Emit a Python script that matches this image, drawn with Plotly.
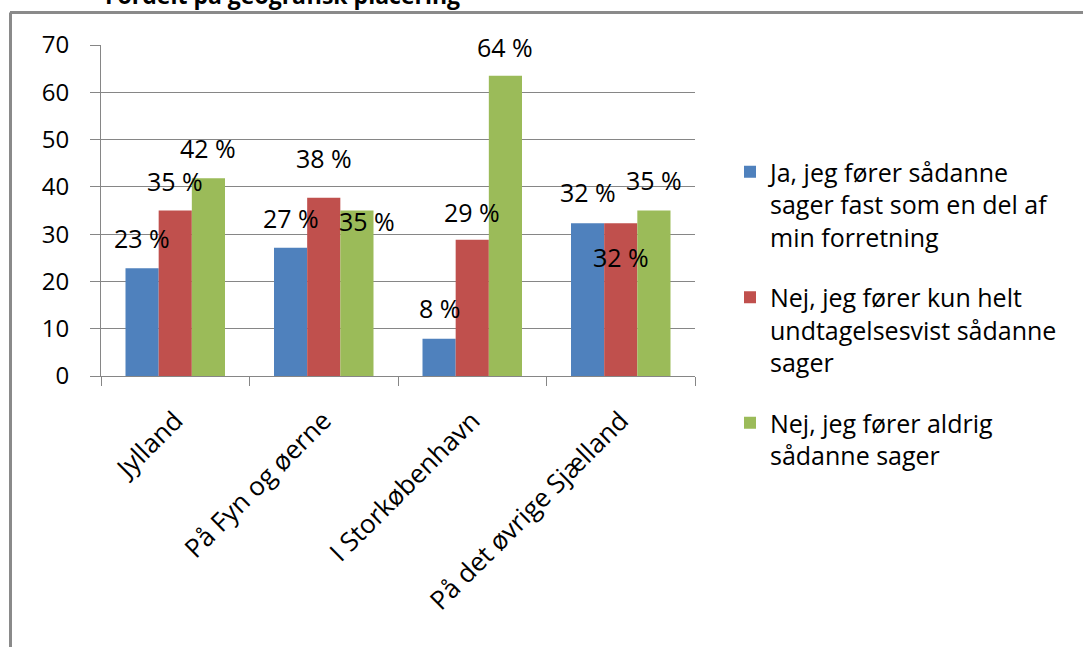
import plotly.graph_objects as go

categories = ["Jylland", "På Fyn og øerne", "I Storkøbenhavn", "På det øvrige Sjælland"]
series_names = [
    "Ja, jeg fører sådanne<br>sager fast som en del af<br>min forretning",
    "Nej, jeg fører kun helt<br>undtagelsesvist sådanne<br>sager",
    "Nej, jeg fører aldrig<br>sådanne sager",
]
ja_fast = [22.8, 27.1, 7.9, 32.3]
nej_undtagelsesvist = [35.0, 37.7, 28.8, 32.3]
nej_aldrig = [41.8, 35.0, 63.5, 35.0]
series_values = [ja_fast, nej_undtagelsesvist, nej_aldrig]
value_labels = [["23 %", "27 %", "8 %", "32 %"],
                ["35 %", "38 %", "29 %", "32 %"],
                ["42 %", "35 %", "64 %", "35 %"]]
title_text = "Fordelt på geografisk placering"
y_ticks = [0, 10, 20, 30, 40, 50, 60, 70]

colors = ["#4F81BD", "#C0504D", "#9BBB59"]
# label offsets in px (vertical shift of label centre relative to bar top, horizontal shift)
label_yshift = [[30, 30, 31, 31], [30, 40, 28, -34], [30, -10, 29, 31]]
label_xshift = [[0, 0, 0, 0], [0, 0, 0, 0], [0, 10, 0, 0]]

W, H = 1083, 647
ML, MR, MT, MB = 101, 388, 45, 271
BARGAP = 0.33
FONT = "Open Sans"
GRAY = "#868686"

fig = go.Figure()
for i, (name, vals) in enumerate(zip(series_names, series_values)):
    fig.add_trace(go.Bar(
        x=categories, y=vals, name=name, marker_color=colors[i],
        marker_line_width=0, legendgroup=f"g{i}", hoverinfo="skip",
    ))

bw = (1 - BARGAP) / 3
annotations = []
for i, vals in enumerate(series_values):
    for j, v in enumerate(vals):
        annotations.append(dict(
            x=j + (i - 1) * bw, y=v, xref="x", yref="y", text=value_labels[i][j],
            showarrow=False, xanchor="center", yanchor="middle",
            yshift=label_yshift[i][j], xshift=label_xshift[i][j],
            font=dict(family=FONT, size=25, color="#000000"),
        ))

plot_h = H - MT - MB
def paper_y(ypix):
    return (H - MB - ypix) / plot_h
def paper_x(xpix):
    return (xpix - ML) / (W - ML - MR)

annotations.append(dict(
    x=paper_x(103), y=paper_y(-5), xref="paper", yref="paper", text="<b>" + title_text + "</b>",
    showarrow=False, xanchor="left", yanchor="middle",
    font=dict(family=FONT, size=23, color="#000000"),
))

shapes = [
    dict(type="line", xref="paper", yref="paper", x0=paper_x(10), x1=paper_x(1090),
         y0=paper_y(12.5), y1=paper_y(12.5), line=dict(color="#8A8A8A", width=3)),
    dict(type="line", xref="paper", yref="paper", x0=paper_x(10.5), x1=paper_x(10.5),
         y0=paper_y(12.5), y1=paper_y(660), line=dict(color="#8A8A8A", width=3)),
]

fig.update_layout(
    width=W, height=H,
    margin=dict(l=ML, r=MR, t=MT, b=MB, pad=0),
    paper_bgcolor="white", plot_bgcolor="white",
    barmode="group", bargap=BARGAP, bargroupgap=0,
    font=dict(family=FONT, size=22, color="#000000"),
    showlegend=True,
    legend=dict(
        x=paper_x(730), y=paper_y(149), xanchor="left", yanchor="top",
        font=dict(family=FONT, size=25, color="#000000"),
        valign="top", tracegroupgap=25, bgcolor="rgba(0,0,0,0)",
        itemclick=False, itemdoubleclick=False,
    ),
    annotations=annotations,
    shapes=shapes,
    xaxis=dict(
        type="category", tickangle=-45, showline=True, linecolor=GRAY, linewidth=1,
        ticks="outside", tickson="boundaries", ticklen=9, tickcolor=GRAY,
        showgrid=False, tickfont=dict(family=FONT, size=26), fixedrange=True,
        ticklabelstandoff=18,
    ),
    yaxis=dict(
        range=[0, 70], tickvals=y_ticks, showline=True, linecolor=GRAY, linewidth=1,
        ticks="outside", ticklen=10, tickcolor=GRAY, showgrid=True, gridcolor=GRAY,
        gridwidth=1, zeroline=False, tickfont=dict(family=FONT, size=24),
        ticklabelstandoff=16, fixedrange=True,
    ),
)

fig.write_html("out.html", config={"displayModeBar": False},
               post_script="document.body.style.margin='0px';document.body.style.overflow='hidden';")
